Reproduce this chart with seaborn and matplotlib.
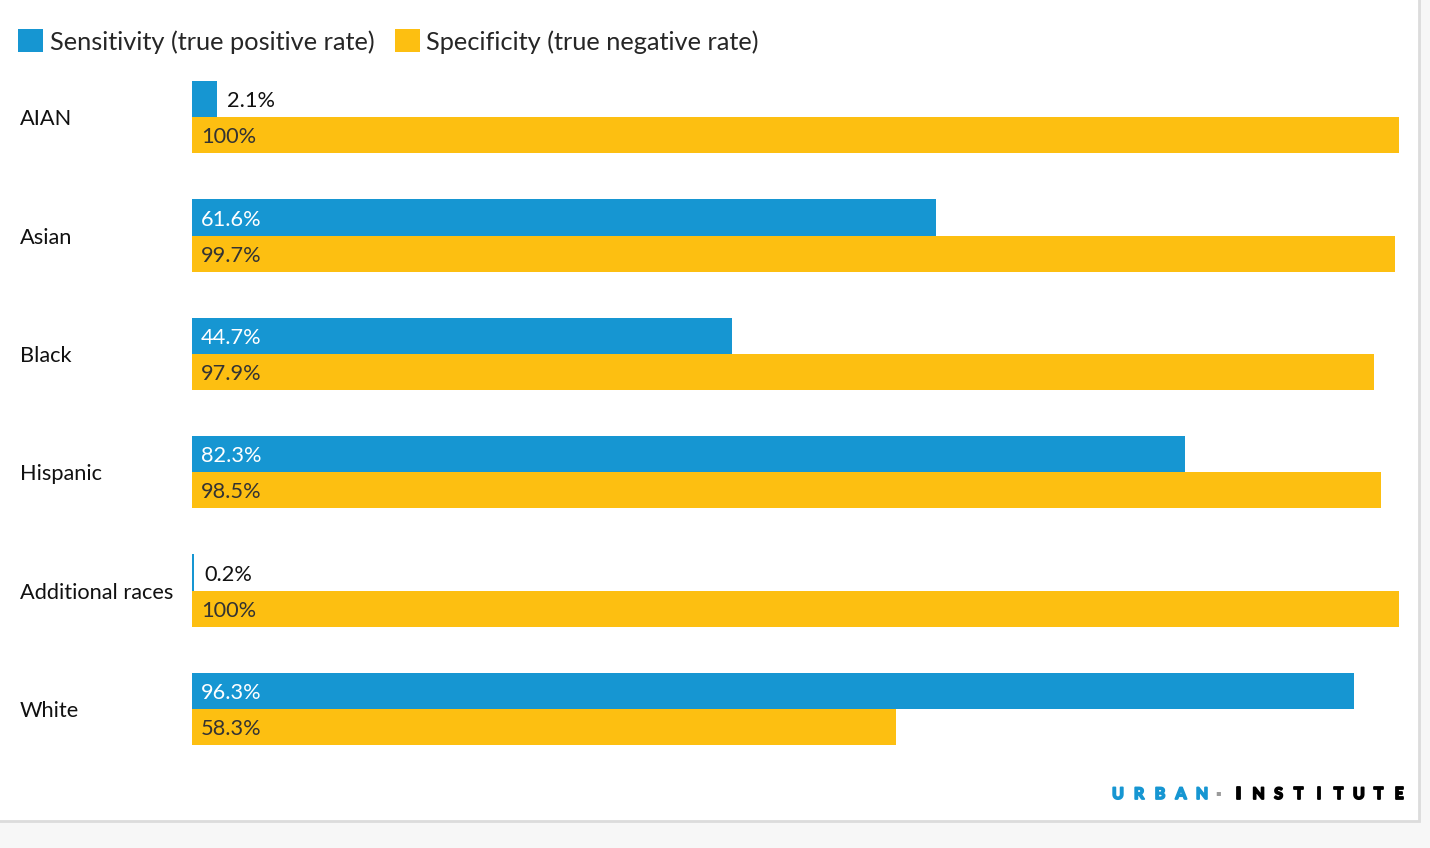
import pandas as pd
import seaborn as sns
import matplotlib.pyplot as plt
import matplotlib.patheffects as pe
from matplotlib.patches import Rectangle
from matplotlib.transforms import blended_transform_factory

# data
groups = ["AIAN", "Asian", "Black", "Hispanic", "Additional races", "White"]
sensitivity = [2.1, 61.6, 44.7, 82.3, 0.2, 96.3]
specificity = [100, 99.7, 97.9, 98.5, 100, 58.3]
series = ["Sensitivity (true positive rate)", "Specificity (true negative rate)"]

BLUE = "#1696d2"
YELLOW = "#fdbf11"

df = pd.DataFrame({
    "group": groups * 2,
    "value": sensitivity + specificity,
    "series": [series[0]] * len(groups) + [series[1]] * len(groups),
})

sns.set_style("white")
plt.rcParams["font.family"] = ["Lato", "DejaVu Sans"]

fig = plt.figure(figsize=(14.3, 8.48), dpi=100, facecolor="#f7f7f7")
# white card with light border
fig.patches.append(Rectangle((-0.01, 1 - 821 / 848), 1419 / 1430 + 0.01, 821 / 848 + 0.01,
                             transform=fig.transFigure, facecolor="white",
                             edgecolor="#dcdcdc", linewidth=2, zorder=-5))

ax = fig.add_axes([192 / 1430, 1 - 768 / 848, 1207 / 1430, 710 / 848])
ax.patch.set_alpha(0)
sns.barplot(data=df, y="group", x="value", hue="series", hue_order=series,
            order=groups, palette=[BLUE, YELLOW], orient="h", width=0.61,
            gap=0, saturation=1, ax=ax, linewidth=0)

ax.set_xlim(0, 100)
ax.set_ylim(5.5, -0.5)
ax.set_xlabel("")
ax.set_ylabel("")
ax.set_xticks([])
ax.set_yticks([])
sns.despine(ax=ax, left=True, bottom=True)

FS = 15.7

# category labels at the left edge of the card (figure x, data y)
lab_tr = blended_transform_factory(fig.transFigure, ax.transData)
for i, g in enumerate(groups):
    ax.annotate(g, (20 / 1430, i), xycoords=lab_tr, xytext=(0, -1.5),
                textcoords="offset points", fontsize=FS, color="#111111",
                va="center", ha="left")

# value labels
for k, cont in enumerate(ax.containers):
    for bar in cont:
        w = bar.get_width()
        yc = bar.get_y() + bar.get_height() / 2
        lab = f"{w:g}%"
        if w < 5:
            ax.annotate(lab, (w, yc), xytext=(7, -1.5), textcoords="offset points",
                        va="center", ha="left", fontsize=FS, color="#111111")
        else:
            ax.annotate(lab, (0, yc), xytext=(6.5, -1.5), textcoords="offset points",
                        va="center", ha="left", fontsize=FS,
                        color="white" if k == 0 else "#333333")

sns.move_legend(ax, loc="center left", bbox_to_anchor=(18 / 1430, 1 - 41.5 / 848),
                bbox_transform=fig.transFigure, ncol=2, frameon=False, title=None,
                fontsize=18.3, handlelength=1, handleheight=1, handletextpad=0.25,
                columnspacing=0.8, borderpad=0, borderaxespad=0)

# logo (heavy, widely tracked letters)
logo_y = 1 - 795 / 848
for j, ch in enumerate("URBAN"):
    fig.text((1118 + 21 * j) / 1430, logo_y, ch, color=BLUE, fontsize=11.5,
             fontweight="bold", ha="center", va="center",
             path_effects=[pe.withStroke(linewidth=1.3, foreground=BLUE)])
fig.text(1218.5 / 1430, 1 - 793 / 848, "▪", color="#9a9a9a", fontsize=6,
         family="DejaVu Sans", ha="center", va="center")
for j, ch in enumerate("INSTITUTE"):
    fig.text((1238.5 + 20.06 * j) / 1430, logo_y, ch, color="black", fontsize=11.5,
             fontweight="bold", ha="center", va="center",
             path_effects=[pe.withStroke(linewidth=1.3, foreground="black")])

fig.savefig("out.png", dpi=100, facecolor=fig.get_facecolor())
